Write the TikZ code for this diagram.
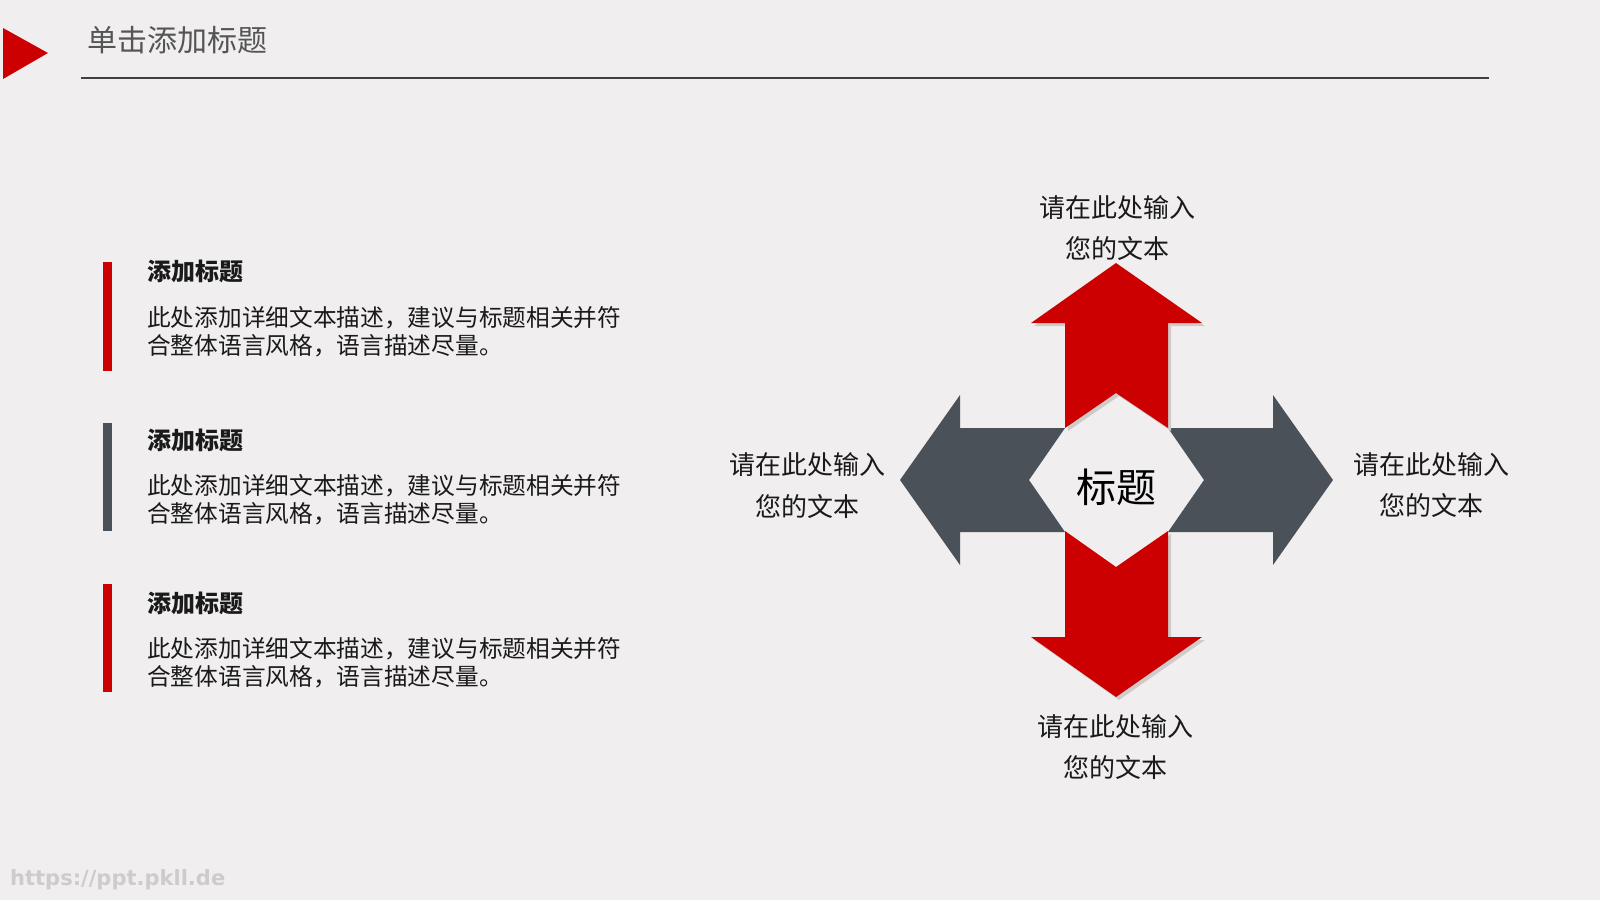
\documentclass[tikz,border=0pt]{standalone}
\usepackage{fontspec}
\setmainfont{Liberation Sans}
\newfontfamily\cjk{Noto Sans CJK SC}
\newfontfamily\wmfont{DejaVu Sans}
\definecolor{bg}{HTML}{F0EEEE}
\definecolor{myred}{HTML}{CC0000}
\definecolor{mygray}{HTML}{4B5159}
\definecolor{shadowc}{HTML}{CFCBCB}
\definecolor{titlec}{HTML}{555555}
\definecolor{textc}{HTML}{1A1A1A}
\tikzset{
  lbl/.style={font=\cjk\fontsize{26}{30}\selectfont, text=textc, anchor=base, inner sep=0pt},
  head/.style={font=\cjk\bfseries\fontsize{24}{28}\selectfont, text=textc, anchor=base west, inner sep=0pt},
  body/.style={font=\cjk\fontsize{23.7}{28}\selectfont, text=textc, anchor=base west, inner sep=0pt},
  redfill/.style={fill=myred, draw=none},
  grayfill/.style={fill=mygray, draw=none},
  shad/.style={fill=shadowc, draw=none},
}
\begin{document}
\begin{tikzpicture}[x=1pt,y=-1pt]
\fill[bg] (0,0) rectangle (1600,900);
\useasboundingbox (0,0) rectangle (1600,900);
% header
\fill[myred] (3,28) -- (48,53) -- (3,79) -- cycle;
\node[font=\cjk\fontsize{30}{34}\selectfont, text=titlec, anchor=base west, inner sep=0pt] (title) at (87,51) {单击添加标题};
\draw[line width=2pt, color=black!75] (81,78) -- (1489,78);
% left list
\fill[myred] (103,262) rectangle (112,371);
\node[head] (h1) at (147,280) {添加标题};
\node[body] (b1a) at (147,326) {此处添加详细文本描述，建议与标题相关并符};
\node[body] (b1b) at (147,354) {合整体语言风格，语言描述尽量。};
\fill[mygray] (103,423) rectangle (112,531);
\node[head] (h2) at (147,449) {添加标题};
\node[body] (b2a) at (147,494) {此处添加详细文本描述，建议与标题相关并符};
\node[body] (b2b) at (147,522) {合整体语言风格，语言描述尽量。};
\fill[myred] (103,584) rectangle (112,692);
\node[head] (h3) at (147,612) {添加标题};
\node[body] (b3a) at (147,657) {此处添加详细文本描述，建议与标题相关并符};
\node[body] (b3b) at (147,685) {合整体语言风格，语言描述尽量。};
% arrows, centre (1116,480)
\begin{scope}[shift={(1116,480)}]
  % left and right gray arrows
  \fill[grayfill] (-216,0) -- (-156,-85) -- (-156,-52) -- (-51,-52) -- (-87,0) -- (-51,52) -- (-156,52) -- (-156,85) -- cycle;
  \fill[grayfill] (217,0) -- (157,-85) -- (157,-52) -- (52,-52) -- (88,0) -- (52,52) -- (157,52) -- (157,85) -- cycle;
  % shadows of red arrows
  \begin{scope}[shift={(3,3)}]
    \fill[shad] (0,-217) -- (86,-157) -- (52,-157) -- (52,-52) -- (0,-87) -- (-51,-52) -- (-51,-157) -- (-85,-157) -- cycle;
    \fill[shad] (0,217) -- (86,157) -- (52,157) -- (52,51) -- (0,87) -- (-51,51) -- (-51,157) -- (-85,157) -- cycle;
  \end{scope}
  % red arrows
  \fill[redfill] (0,-217) -- (86,-157) -- (52,-157) -- (52,-52) -- (0,-87) -- (-51,-52) -- (-51,-157) -- (-85,-157) -- cycle;
  \fill[redfill] (0,217) -- (86,157) -- (52,157) -- (52,51) -- (0,87) -- (-51,51) -- (-51,157) -- (-85,157) -- cycle;
\end{scope}
\node[font=\cjk\fontsize{40}{44}\selectfont, text=black, anchor=base, inner sep=0pt] (centre) at (1116,502) {标题};
% labels
\node[lbl] (t1) at (1117,217) {请在此处输入};
\node[lbl] (t2) at (1117,258) {您的文本};
\node[lbl] (l1) at (807,474) {请在此处输入};
\node[lbl] (l2) at (807,516) {您的文本};
\node[lbl] (r1) at (1431,474) {请在此处输入};
\node[lbl] (r2) at (1431,515) {您的文本};
\node[lbl] (d1) at (1115,736) {请在此处输入};
\node[lbl] (d2) at (1115,777) {您的文本};
% watermark
\node[font=\wmfont\bfseries\fontsize{21}{24}\selectfont, text=black!20, anchor=base west, inner sep=0pt] (wm) at (10,885) {https://ppt.pkll.de};
\end{tikzpicture}
\end{document}
